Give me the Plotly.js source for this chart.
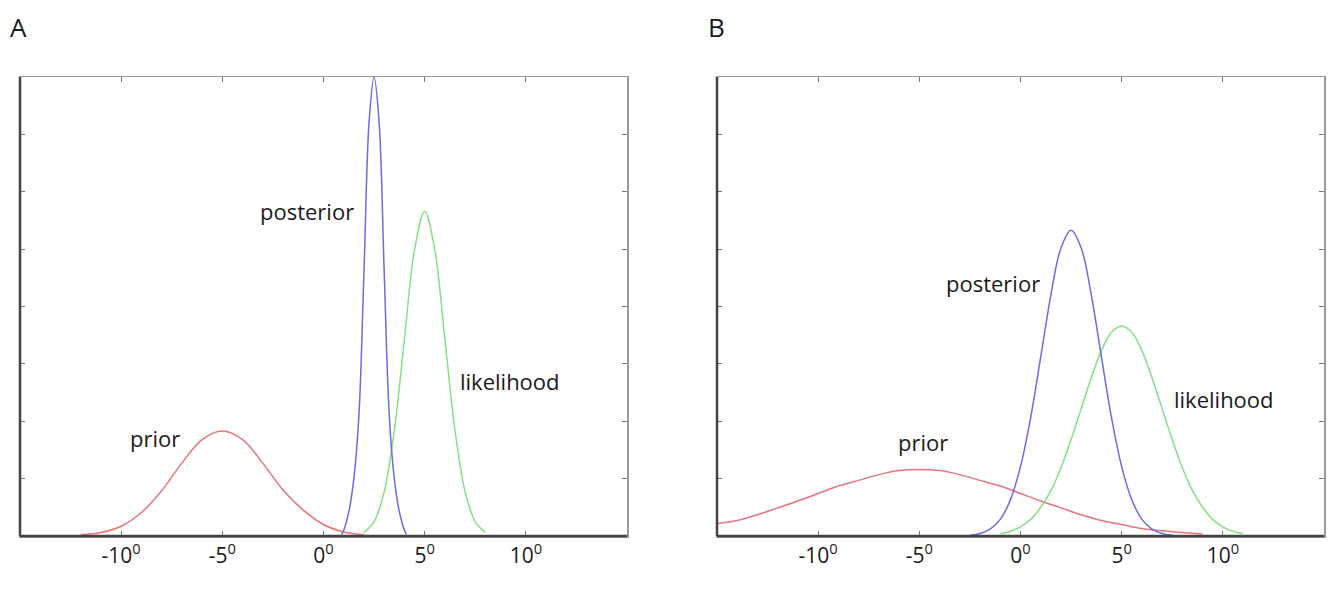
<!DOCTYPE html>
<html>
<head>
<meta charset="utf-8">
<script src="https://cdn.plot.ly/plotly-3.0.1.min.js"></script>
<style>
html,body{margin:0;padding:0;background:#fff;}
#chart{width:1334px;height:589px;}
</style>
</head>
<body>
<div id="chart"></div>
<script>
// ---- Panel A data ----
const priorA_x = [-12,-11,-10,-9,-8,-7,-6,-5,-4,-3,-2,-1,0,1,2];
const priorA_y = [0.02,0.06,0.17,0.41,0.79,1.27,1.68,1.83,1.68,1.27,0.80,0.45,0.20,0.07,0.02];

const likeA_x = [2,2.5,3,3.5,4,4.5,5,5.5,6,6.5,7,7.5,8];
const likeA_y = [0.06,0.25,0.77,1.84,3.43,4.99,5.66,4.99,3.43,1.84,0.77,0.25,0.06];

const postA_x = [0.9,1.0,1.25,1.5,1.75,2.0,2.25,2.5,2.75,3.0,3.25,3.5,3.75,4.0,4.1];
const postA_y = [0.03,0.1,0.42,1.0,2.1,4.6,7.2,8.0,7.2,4.6,2.1,1.0,0.42,0.1,0.03];

// ---- Panel B data ----
const priorB_x = [-15,-14,-13,-12,-11,-10,-9,-8,-7,-6,-5,-4,-3,-2,-1,0,1,2,3,4,5,6,7,8,9];
const priorB_y = [0.22,0.27,0.37,0.49,0.61,0.74,0.87,0.97,1.07,1.14,1.16,1.14,1.07,0.97,0.87,0.74,0.61,0.49,0.37,0.27,0.20,0.13,0.09,0.06,0.035];

const postB_x = [-2.5,-2,-1.5,-1,-0.5,0,0.5,1,1.5,2,2.5,3,3.5,4,4.5,5,5.5,6,6.5,7,7.5];
const postB_y = [0.014,0.043,0.12,0.29,0.63,1.21,2.06,3.12,4.20,5.02,5.33,5.02,4.20,3.12,2.06,1.21,0.63,0.29,0.12,0.043,0.014];

const likeB_x = [-1,-0.5,0,0.5,1,1.5,2,2.5,3,3.5,4,4.5,5,5.5,6,6.5,7,7.5,8,8.5,9,9.5,10,10.5,11];
const likeB_y = [0.041,0.083,0.16,0.29,0.50,0.79,1.19,1.68,2.22,2.76,3.23,3.55,3.66,3.55,3.23,2.76,2.22,1.68,1.19,0.79,0.50,0.29,0.16,0.083,0.041];

// ---- tick labels ----
const xTickVals = [-10,-5,0,5,10];
const xTickText = ['-10<sup>0</sup>','-5<sup>0</sup>','0<sup>0</sup>','5<sup>0</sup>','10<sup>0</sup>'];
const yTickVals = [1,2,3,4,5,6,7];

// ---- labels ----
const panelLabels = ['A','B'];
const curveNames = ['prior','posterior','likelihood'];

const RED = '#e8747c', BLUE = '#6b6be3', GREEN = '#86e086';
const FONT = '"Open Sans", "Liberation Sans", sans-serif';
const TXT = '#1a1a1a';

function tr(x, y, color, xa, ya) {
  return {x: x, y: y, type: 'scatter', mode: 'lines', xaxis: xa, yaxis: ya,
    line: {color: color, width: 1.5, shape: 'spline', smoothing: 1}, hoverinfo: 'skip', showlegend: false};
}

const data = [
  tr(priorA_x, priorA_y, RED, 'x', 'y'),
  tr(likeA_x, likeA_y, GREEN, 'x', 'y'),
  tr(postA_x, postA_y, BLUE, 'x', 'y'),
  tr(priorB_x, priorB_y, RED, 'x2', 'y2'),
  tr(likeB_x, likeB_y, GREEN, 'x2', 'y2'),
  tr(postB_x, postB_y, BLUE, 'x2', 'y2')
];

const W = 1334, H = 589;
const yDom = [(H - 536) / H, (H - 77) / H];

function xAxis(dom, anchor) {
  return {domain: dom, anchor: anchor, range: [-15, 15], tickvals: xTickVals, ticktext: xTickText,
    ticks: 'inside', ticklen: 5, tickwidth: 1, tickcolor: '#777', showline: true, linecolor: '#999',
    linewidth: 1.5, mirror: 'ticks', showgrid: false, zeroline: false, fixedrange: true,
    tickfont: {family: FONT, size: 21, color: TXT}, ticklabelstandoff: 0};
}
function yAxis(anchor) {
  return {domain: yDom, anchor: anchor, range: [0, 8], tickvals: yTickVals, showticklabels: false,
    ticks: 'inside', ticklen: 5, tickwidth: 1, tickcolor: '#777', showline: true, linecolor: '#999',
    linewidth: 1.5, mirror: 'ticks', showgrid: false, zeroline: false, fixedrange: true};
}

function ann(text, x, y, xref, yref, size) {
  return {text: text, x: x, y: y, xref: xref, yref: yref, showarrow: false,
    font: {family: FONT, size: size || 22, color: TXT}, xanchor: 'center', yanchor: 'middle'};
}
// convert pixel positions to data coords for annotation placement
function ax(px, left) { return (px - left) / 607 * 30 - 15; }
function ay(py) { return (536 - py) / 459 * 8; }

const annotations = [
  {text: panelLabels[0], x: 18 / W, y: 1 - 27 / H, xref: 'paper', yref: 'paper', showarrow: false,
   font: {family: FONT, size: 26, color: TXT}, xanchor: 'center', yanchor: 'middle'},
  {text: panelLabels[1], x: 716 / W, y: 1 - 27 / H, xref: 'paper', yref: 'paper', showarrow: false,
   font: {family: FONT, size: 26, color: TXT}, xanchor: 'center', yanchor: 'middle'},
  ann(curveNames[0], ax(155, 20), ay(438), 'x', 'y'),
  ann(curveNames[1], ax(307, 20), ay(211), 'x', 'y'),
  ann(curveNames[2], ax(510, 20), ay(381), 'x', 'y'),
  ann(curveNames[0], ax(923, 717), ay(442), 'x2', 'y2'),
  ann(curveNames[1], ax(993, 717), ay(283), 'x2', 'y2'),
  ann(curveNames[2], ax(1224, 717), ay(399), 'x2', 'y2')
];

function edgeShapes(xr, yr) {
  return [
    {type: 'line', xref: xr + ' domain', yref: yr + ' domain', x0: 0, x1: 0, y0: 0, y1: 1,
     line: {color: '#444', width: 2.5}, layer: 'above'},
    {type: 'line', xref: xr + ' domain', yref: yr + ' domain', x0: 0, x1: 1, y0: 0, y1: 0,
     line: {color: '#444', width: 2.5}, layer: 'above'}
  ];
}

const layout = {
  width: W, height: H, margin: {l: 0, r: 0, t: 0, b: 0},
  paper_bgcolor: '#fff', plot_bgcolor: '#fff', showlegend: false,
  xaxis: xAxis([20 / W, 627 / W], 'y'),
  yaxis: yAxis('x'),
  xaxis2: xAxis([717 / W, 1324 / W], 'y2'),
  yaxis2: yAxis('x2'),
  annotations: annotations,
  shapes: edgeShapes('x', 'y').concat(edgeShapes('x2', 'y2'))
};

Plotly.newPlot('chart', data, layout, {displayModeBar: false, staticPlot: true});
</script>
</body>
</html>
